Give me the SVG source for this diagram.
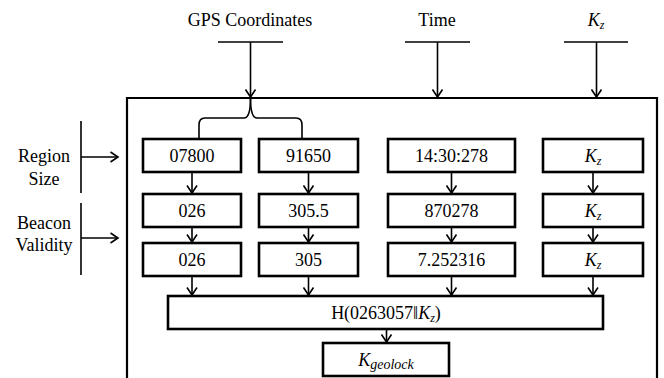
<svg xmlns="http://www.w3.org/2000/svg" width="664" height="378" viewBox="0 0 664 378" font-family="'Liberation Serif', 'Times New Roman', serif">
<defs>
<marker id="ah" viewBox="0 0 12 12" refX="10.5" refY="6" markerWidth="12" markerHeight="12" markerUnits="userSpaceOnUse" orient="auto">
<path d="M3,1 L10.5,6 L3,11" fill="none" stroke="#000" stroke-width="1.6"/>
</marker>
<style>
text{font-family:'Liberation Serif', 'Times New Roman', serif;font-size:18px;fill:#000;text-anchor:middle}
.it{font-style:italic}
.sub{font-size:12px;font-style:italic}
.box{fill:#fff;stroke:#000;stroke-width:2.6}
.ln{fill:none;stroke:#000;stroke-width:1.6}
.ar{fill:none;stroke:#000;stroke-width:1.6;marker-end:url(#ah)}
.frame{fill:none;stroke:#000;stroke-width:2.2}
</style>
</defs>
<rect width="664" height="378" fill="#fff"/>

<g id="frame">
<path class="frame" d="M127,380 L127,98 L657,98 L657,380"/>
</g>

<g id="in-gps">
<text x="250" y="26">GPS Coordinates</text>
<line class="ln" x1="218" y1="42" x2="283" y2="42"/>
</g>
<g id="in-time">
<text x="437" y="26">Time</text>
<line class="ln" x1="405" y1="42" x2="470" y2="42"/>
</g>
<g id="in-kz">
<text x="596" y="26"><tspan class="it">K</tspan><tspan class="sub" dy="3">z</tspan></text>
<line class="ln" x1="564" y1="42" x2="628" y2="42"/>
</g>

<g id="lbl-region">
<text x="44" y="162">Region</text>
<text x="44" y="185">Size</text>
<line class="ln" x1="81" y1="121" x2="81" y2="193"/>
</g>
<g id="lbl-beacon">
<text x="44" y="229">Beacon</text>
<text x="44" y="251">Validity</text>
<line class="ln" x1="81" y1="203" x2="81" y2="275"/>
</g>

<g id="n-07800"><rect class="box" x="143" y="139" width="98" height="33"/><text x="192" y="162">07800</text></g>
<g id="n-91650"><rect class="box" x="259" y="139" width="99" height="33"/><text x="308.5" y="162">91650</text></g>
<g id="n-time"><rect class="box" x="388" y="139" width="127" height="33"/><text x="451.5" y="162">14:30:278</text></g>
<g id="n-kz1"><rect class="box" x="543" y="139" width="100" height="33"/><text x="593" y="162"><tspan class="it">K</tspan><tspan class="sub" dy="3">z</tspan></text></g>

<g id="n-026a"><rect class="box" x="143" y="194" width="98" height="33"/><text x="192" y="217">026</text></g>
<g id="n-3055"><rect class="box" x="259" y="194" width="99" height="33"/><text x="308.5" y="217">305.5</text></g>
<g id="n-870278"><rect class="box" x="388" y="194" width="127" height="33"/><text x="451.5" y="217">870278</text></g>
<g id="n-kz2"><rect class="box" x="543" y="194" width="100" height="33"/><text x="593" y="217"><tspan class="it">K</tspan><tspan class="sub" dy="3">z</tspan></text></g>

<g id="n-026b"><rect class="box" x="143" y="243" width="98" height="33"/><text x="192" y="266">026</text></g>
<g id="n-305"><rect class="box" x="259" y="243" width="99" height="33"/><text x="308.5" y="266">305</text></g>
<g id="n-7252316"><rect class="box" x="388" y="243" width="127" height="33"/><text x="451.5" y="266">7.252316</text></g>
<g id="n-kz3"><rect class="box" x="543" y="243" width="100" height="33"/><text x="593" y="266"><tspan class="it">K</tspan><tspan class="sub" dy="3">z</tspan></text></g>

<g id="n-hash"><rect class="box" x="168" y="296" width="435" height="33"/><text x="386" y="319">H(0263057‖<tspan class="it">K</tspan><tspan class="sub" dy="3">z</tspan><tspan dy="-3">)</tspan></text></g>
<g id="n-kgeo"><rect class="box" x="323" y="343" width="126" height="33"/><text x="386" y="366"><tspan class="it">K</tspan><tspan class="sub" dy="3" style="font-size:14px">geolock</tspan></text></g>

<g id="connectors">
<line class="ar" x1="250.5" y1="42" x2="250.5" y2="97"/>
<line class="ar" x1="437.5" y1="42" x2="437.5" y2="97"/>
<line class="ar" x1="596.5" y1="42" x2="596.5" y2="97"/>
<path class="ln" d="M250.5,98 Q250.5,118 244,118 L205,118 Q199,118 199,125 L199,138"/>
<path class="ln" d="M250.5,98 Q250.5,118 257,118 L296,118 Q302,118 302,125 L302,138"/>
<line class="ar" x1="81" y1="157" x2="118" y2="157"/>
<line class="ar" x1="81" y1="238" x2="118" y2="238"/>
<line class="ar" x1="192" y1="172" x2="192" y2="193"/>
<line class="ar" x1="308.5" y1="172" x2="308.5" y2="193"/>
<line class="ar" x1="451.5" y1="172" x2="451.5" y2="193"/>
<line class="ar" x1="593" y1="172" x2="593" y2="193"/>
<line class="ar" x1="192" y1="227" x2="192" y2="242"/>
<line class="ar" x1="308.5" y1="227" x2="308.5" y2="242"/>
<line class="ar" x1="451.5" y1="227" x2="451.5" y2="242"/>
<line class="ar" x1="593" y1="227" x2="593" y2="242"/>
<line class="ar" x1="192" y1="276" x2="192" y2="295"/>
<line class="ar" x1="308.5" y1="276" x2="308.5" y2="295"/>
<line class="ar" x1="451.5" y1="276" x2="451.5" y2="295"/>
<line class="ar" x1="593" y1="276" x2="593" y2="295"/>
<line class="ar" x1="386.5" y1="329" x2="386.5" y2="342"/>
</g>
</svg>
